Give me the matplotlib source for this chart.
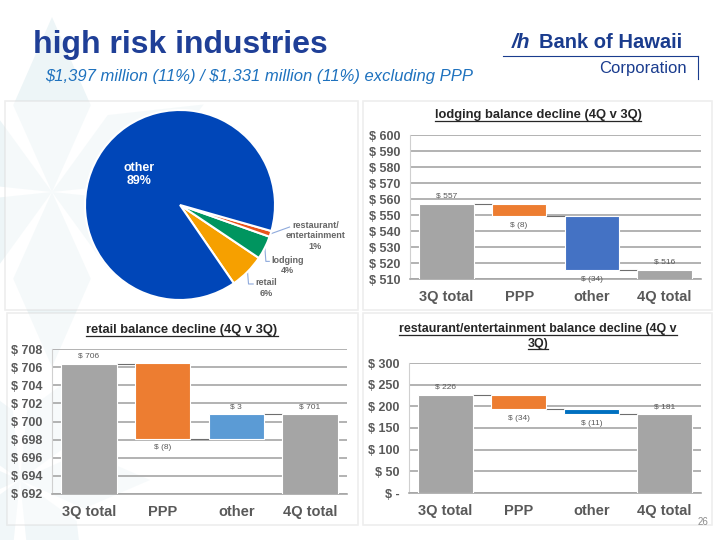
import matplotlib
matplotlib.use('Agg')
import matplotlib.pyplot as plt
import numpy as np
from matplotlib.patches import Rectangle, Polygon
from matplotlib.ticker import FuncFormatter

plt.rcParams['font.family'] = ['Liberation Sans', 'DejaVu Sans']
plt.rcParams['text.parse_math'] = False

# ---- data ----
pie_names = ['retail', 'lodging', 'restaurant/\nentertainment', 'other']
pie_pct = [6, 4, 1, 89]
pie_colors = ['#F6A000', '#00955F', '#E9541C', '#0046B8']

steps = ['3Q total', 'PPP', 'other', '4Q total']

lodging_3q = 556.8
lodging_chg = [-7.6, -33.6]
lodging_4q = 515.6

retail_3q = 706.4
retail_chg = [-8.3, 2.7]
retail_4q = 700.8

rest_3q = 226.4
rest_chg = [-33.6, -11.4]
rest_4q = 181.4

W, H = 720, 540
fig = plt.figure(figsize=(7.2, 5.4), dpi=100)
fig.patch.set_facecolor('white')

# background layer in pixel coordinates
bg = fig.add_axes([0, 0, 1, 1], zorder=-5)
bg.set_xlim(0, W)
bg.set_ylim(H, 0)
bg.axis('off')

# faint snowflake decoration
def kite_star(cx, cy, R, r, rot, half, color):
    for k in range(6):
        a = np.deg2rad(rot + 60 * k)
        tip = (cx + R * np.cos(a), cy + R * np.sin(a))
        s1 = (cx + r * np.cos(a + half), cy + r * np.sin(a + half))
        s2 = (cx + r * np.cos(a - half), cy + r * np.sin(a - half))
        bg.add_patch(Polygon([(cx, cy), s1, tip, s2], closed=True, color=color, lw=0))

kite_star(52, 192, 175, 95, -90, 0.42, '#EDF5F7')
kite_star(20, 480, 130, 70, -60, 0.42, '#F1F7F9')

def px_rect(l, t, r, b):
    return [l / W, 1 - b / H, (r - l) / W, (b - t) / H]

# panel frames
for (l, t, r, b) in [(5, 101, 358, 310), (363, 101, 712, 310),
                     (7, 313, 358, 525), (363, 313, 712, 525)]:
    bg.add_patch(Rectangle((l, t), r - l, b - t, facecolor='white', alpha=0.45,
                           edgecolor='#D9D9D9', lw=1.2))

# headings
bg.text(33, 45, 'high risk industries', fontsize=23, fontweight='bold',
        color='#1F3F97', va='center', ha='left')
bg.text(45, 77, '$1,397 million (11%) / $1,331 million (11%) excluding PPP',
        fontsize=12, style='italic', color='#1F72BE', va='center', ha='left')

# logo
bg.text(512, 42, '/h', fontsize=15, fontweight='bold', style='italic',
        color='#1A3C8E', va='center', ha='left')
bg.text(539, 42, 'Bank of Hawaii', fontsize=14.5, fontweight='bold',
        color='#1A3C8E', va='center', ha='left')
bg.plot([503, 698], [55.5, 55.5], color='#1A3C8E', lw=0.8)
bg.plot([698, 698], [55.5, 79], color='#1A3C8E', lw=0.8)
bg.text(687, 69, 'Corporation', fontsize=12, color='#1A3C8E', va='center', ha='right')
bg.text(703, 522, '26', fontsize=7, color='#8C8C8C', va='center', ha='center')

# ---- pie ----
pax = fig.add_axes(px_rect(60, 100, 360, 305))
wedges, _ = pax.pie(pie_pct, colors=pie_colors, startangle=-55.5, counterclock=True,
                    radius=1, wedgeprops=dict(edgecolor='white', linewidth=1.5))
pax.set_aspect('auto')
pax.set_xlim((60 - 180) / 95, (360 - 180) / 95)
pax.set_ylim((205 - 305) / 95, (205 - 100) / 95)
pax.axis('off')

lab_pos = {0: (0.905, -0.872), 1: (1.132, -0.634), 2: (1.426, -0.326)}
pie_texts = {}
for i, w in enumerate(wedges):
    txt = f'{pie_names[i]}\n{pie_pct[i]}%'
    if i == 3:
        pax.text(-0.43, 0.32, txt, color='white', fontsize=9, fontweight='bold',
                 ha='center', va='center', linespacing=1.1)
        continue
    pie_texts[i] = pax.text(*lab_pos[i], txt, fontsize=6.5, fontweight='bold',
                            color='#666666', ha='center', va='center', linespacing=1.2)

# ---- waterfalls ----
def money(v):
    v = int(round(v))
    return f'$ ({abs(v)})' if v < 0 else f'$ {v}'

def waterfall(rect, start, changes, end, chg_colors, ylim, yticks):
    ax = fig.add_axes(px_rect(*rect))
    ax.patch.set_alpha(0)
    w = 0.75
    x = np.arange(len(steps))
    ax.bar([0, 3], [start, end], width=w, color='#A5A5A5', edgecolor='white',
           lw=0.8, zorder=3)
    for xi, v in zip([0, 3], [start, end]):
        ax.annotate(money(v), (xi, v), xytext=(0, 3), textcoords='offset points',
                    ha='center', va='bottom', fontsize=6, color='#595959')
    levels = [start]
    level = start
    for i, c in enumerate(changes):
        new = level + c
        ax.bar(i + 1, abs(c), bottom=min(level, new), width=w, color=chg_colors[i],
               edgecolor='white', lw=0.8, zorder=3)
        if c < 0:
            ax.annotate(money(c), (i + 1, new), xytext=(0, -4), textcoords='offset points',
                        ha='center', va='top', fontsize=6, color='#595959')
        else:
            ax.annotate(money(c), (i + 1, new), xytext=(0, 3), textcoords='offset points',
                        ha='center', va='bottom', fontsize=6, color='#595959')
        level = new
        levels.append(level)
    for i, lv in enumerate(levels):
        ax.plot([i + w / 2, i + 1 - w / 2], [lv, lv], color='#6E6E6E', lw=0.8, zorder=2)
    ax.set_xlim(-0.5, 3.5)
    ax.set_ylim(*ylim)
    ax.set_yticks(yticks)
    ax.yaxis.set_major_formatter(FuncFormatter(lambda v, p: '$ -' if v == 0 else f'$ {v:.0f}'))
    ax.set_xticks(x)
    ax.set_xticklabels(steps)
    ax.yaxis.grid(True, color='#A6A6A6', lw=1.2)
    ax.set_axisbelow(True)
    for s in ['top', 'right']:
        ax.spines[s].set_visible(False)
    ax.spines['left'].set_color('#D0D0D0')
    ax.spines['bottom'].set_color('#A6A6A6')
    ax.spines['bottom'].set_linewidth(1.2)
    ax.tick_params(axis='y', length=0, pad=7, labelsize=9, labelcolor='#595959')
    ax.tick_params(axis='x', length=0, pad=8, labelsize=10.5, labelcolor='#595959')
    for t in ax.get_yticklabels() + ax.get_xticklabels():
        t.set_fontweight('bold')
    return ax

waterfall((410, 135, 701, 279), lodging_3q, lodging_chg, lodging_4q,
          ['#ED7D31', '#4472C4'], (510, 600), np.arange(510, 601, 10))
waterfall((52, 349, 347, 494), retail_3q, retail_chg, retail_4q,
          ['#ED7D31', '#5B9BD5'], (692, 708), np.arange(692, 709, 2))
waterfall((409, 363, 701, 493), rest_3q, rest_chg, rest_4q,
          ['#ED7D31', '#0070C0'], (0, 300), np.arange(0, 301, 50))

# underlined chart titles
titles = [('lodging balance decline (4Q v 3Q)', 538, 115, 9.3),
          ('retail balance decline (4Q v 3Q)', 182, 330, 9.3),
          ('restaurant/entertainment balance decline (4Q v', 538, 329, 8.9),
          ('3Q)', 538, 343.5, 8.9)]
tobjs = [bg.text(x0, y0, s, fontsize=fs, fontweight='bold', color='#262626',
                 ha='center', va='center') for s, x0, y0, fs in titles]
fig.canvas.draw()
rend = fig.canvas.get_renderer()
inv = bg.transData.inverted()

def px_box(t):
    bb = t.get_window_extent(rend)
    (x0, y0), (x1, y1) = inv.transform([(bb.x0, bb.y0), (bb.x1, bb.y1)])
    return x0, y1, x1, y0   # left, top, right, bottom in pixel rows

for t in tobjs:
    l, tp, r, b = px_box(t)
    bg.plot([l, r], [b - 0.5, b - 0.5], color='#262626', lw=0.9)

# pie leader lines
for i, t in pie_texts.items():
    w = wedges[i]
    mid = np.deg2rad((w.theta1 + w.theta2) / 2)
    ex, ey = inv.transform(pax.transData.transform((np.cos(mid), np.sin(mid))))
    l, tp, r, b = px_box(t)
    nlines = t.get_text().count('\n') + 1
    yline = tp + (b - tp) / nlines / 2 + 1
    if i == 2:
        xs, ys = [ex, l + 4], [ey, yline]
    else:
        xs, ys = [ex, ex + 1, l - 2], [ey, yline, yline]
    bg.plot(xs, ys, color='#8FAADC', lw=0.8, zorder=5)

fig.savefig('out.png', dpi=100)
